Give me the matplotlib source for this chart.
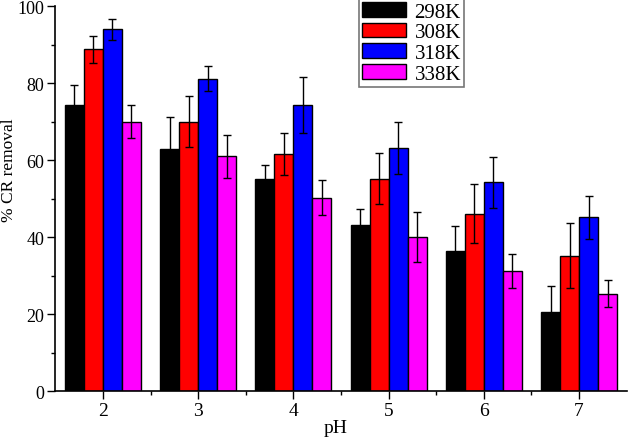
import matplotlib.pyplot as plt
import numpy as np

plt.rcParams["font.family"] = ["Liberation Serif", "DejaVu Serif"]

ph = [2, 3, 4, 5, 6, 7]
temps = ["298K", "308K", "318K", "338K"]
colors = ["#000000", "#ff0000", "#0000ff", "#ff00ff"]

# % CR removal per temperature, and error bars
removal_298 = [74.2, 62.9, 55.1, 43.1, 36.4, 20.6]
removal_308 = [88.8, 70.0, 61.6, 55.2, 46.1, 35.2]
removal_318 = [94.0, 81.1, 74.2, 63.2, 54.2, 45.1]
removal_338 = [70.0, 61.0, 50.2, 40.1, 31.2, 25.3]

err_298 = [5.3, 8.2, 3.6, 4.3, 6.4, 6.6]
err_308 = [3.5, 6.5, 5.5, 6.5, 7.7, 8.4]
err_318 = [2.7, 3.3, 7.3, 6.8, 6.6, 5.6]
err_338 = [4.4, 5.6, 4.6, 6.5, 4.5, 3.6]

values = [removal_298, removal_308, removal_318, removal_338]
errors = [err_298, err_308, err_318, err_338]

fig = plt.figure(figsize=(6.28, 4.39), dpi=100)
ax = fig.add_axes([0.088, 0.107, 0.91, 0.877])

x = np.array(ph, dtype=float)
width = 0.2
offsets = [-1.5 * width, -0.5 * width, 0.5 * width, 1.5 * width]

for vals, errs, col, lab, off in zip(values, errors, colors, temps, offsets):
    ax.bar(x + off, vals, width, color=col, edgecolor="black", linewidth=1.0,
           label=lab, zorder=2)
    ax.errorbar(x + off, vals, yerr=errs, fmt="none", ecolor="black",
                elinewidth=1.0, capsize=3, capthick=1.0, zorder=3)

ax.set_xlim(1.5, 7.5)
ax.set_ylim(0, 100)
ax.set_xticks(ph)
ax.set_xticks([2.5, 3.5, 4.5, 5.5, 6.5], minor=True)
ax.set_yticks([0, 20, 40, 60, 80, 100])
ax.set_yticks([10, 30, 50, 70, 90], minor=True)

for side in ["top", "right"]:
    ax.spines[side].set_visible(False)
for side in ["left", "bottom"]:
    ax.spines[side].set_linewidth(1.2)

ax.tick_params(axis="both", which="major", direction="out", length=5.5,
               width=1.0, pad=2.5)
ax.tick_params(axis="y", which="major", labelsize=13)
ax.tick_params(axis="x", which="major", labelsize=14)
ax.tick_params(axis="both", which="minor", direction="out", length=3,
               width=1.0)

ax.set_xlabel("pH", fontsize=14)
ax.set_ylabel("% CR removal", fontsize=12.5, va="top", ha="center",
              rotation_mode="anchor")
ax.xaxis.set_label_coords(0.491, -0.072)
ax.yaxis.set_label_coords(-0.095, 0.577)

leg = ax.legend(loc="upper left", bbox_to_anchor=(0.532, 1.018), fontsize=15,
                frameon=True, fancybox=False, edgecolor="#555555",
                handlelength=2.1, handleheight=0.7, handletextpad=0.4,
                labelspacing=0.05, borderpad=0.15, borderaxespad=0.0)
leg.get_frame().set_linewidth(1.2)

fig.savefig("out.png", dpi=100)
